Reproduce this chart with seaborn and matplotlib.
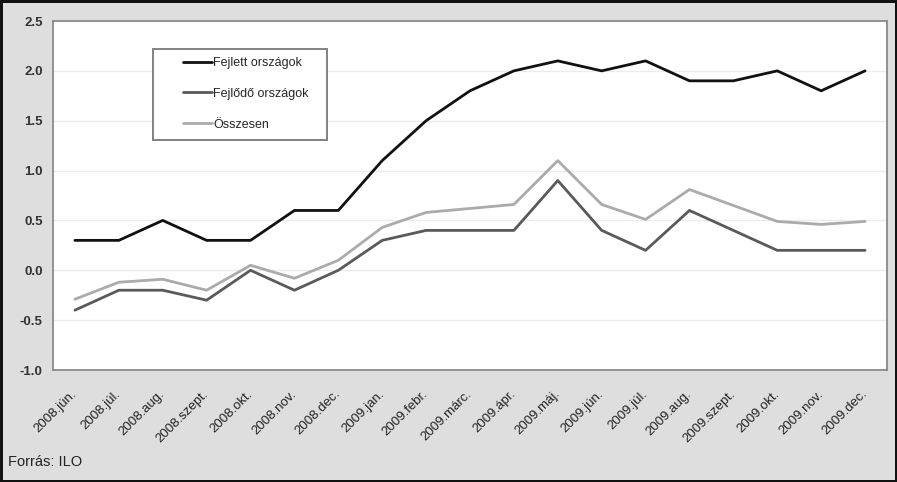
import matplotlib
matplotlib.use("Agg")
import matplotlib.pyplot as plt
import seaborn as sns
import pandas as pd
from matplotlib.patches import Rectangle

months = ["2008.jún.", "2008.júl.", "2008.aug.", "2008.szept.", "2008.okt.",
          "2008.nov.", "2008.dec.", "2009.jan.", "2009.febr.", "2009.márc.",
          "2009.ápr.", "2009.máj.", "2009.jún.", "2009.júl.", "2009.aug.",
          "2009.szept.", "2009.okt.", "2009.nov.", "2009.dec."]
fejlett = [0.3, 0.3, 0.5, 0.3, 0.3, 0.6, 0.6, 1.1, 1.5, 1.8, 2.0, 2.1,
           2.0, 2.1, 1.9, 1.9, 2.0, 1.8, 2.0]
fejlodo = [-0.4, -0.2, -0.2, -0.3, 0.0, -0.2, 0.0, 0.3, 0.4, 0.4, 0.4, 0.9,
           0.4, 0.2, 0.6, 0.4, 0.2, 0.2, 0.2]
osszesen = [-0.29, -0.12, -0.09, -0.2, 0.05, -0.08, 0.1, 0.43, 0.58, 0.62,
            0.66, 1.1, 0.66, 0.51, 0.81, 0.65, 0.49, 0.46, 0.49]
series_names = ["Fejlett országok", "Fejlődő országok", "Összesen"]
yticks = [-1.0, -0.5, 0.0, 0.5, 1.0, 1.5, 2.0, 2.5]

sns.set_theme(style="white")
plt.rcParams["font.family"] = ["Liberation Sans", "DejaVu Sans"]

idx = list(range(len(months)))
df = pd.concat([
    pd.DataFrame({"x": idx, "y": vals, "series": name})
    for name, vals in zip(series_names, [fejlett, fejlodo, osszesen])
], ignore_index=True)

fig = plt.figure(figsize=(8.97, 4.82), dpi=100)
fig.patch.set_facecolor("#dedede")
fig.patch.set_edgecolor("#111111")
fig.patch.set_linewidth(2.5)

ax = fig.add_axes([53/897, 1-370/482, 834/897, 349/482])
ax.set_facecolor("white")

palette = {"Fejlett országok": "#111111", "Fejlődő országok": "#5a5a5a",
           "Összesen": "#ababab"}
sns.lineplot(data=df, x="x", y="y", hue="series", hue_order=series_names,
             palette=palette, linewidth=2.0, ax=ax, legend=True, sort=False)

ax.set_xlim(-0.5, len(months) - 0.5)
ax.set_ylim(-1.0, 2.5)
ax.set_yticks(yticks)
ax.set_yticklabels([f"{v:.1f}" for v in yticks], fontsize=9.5,
                   fontweight="bold", color="#333333")
ax.set_xticks(idx)
ax.set_xticklabels(months, rotation=45, ha="right", va="center",
                   rotation_mode="anchor", fontsize=9.5, color="#222222")
ax.tick_params(axis="x", length=0, pad=16)
ax.tick_params(axis="y", length=0, pad=7.5)
for lbl in ax.get_xticklabels():
    lbl.set_x(lbl.get_position()[0])
ax.set_xlabel("")
ax.set_ylabel("")
ax.grid(axis="y", color="#ececec", linewidth=1.0)
ax.set_axisbelow(True)
for s in ax.spines.values():
    s.set_color("#8a8a8a")
    s.set_linewidth(1.3)

# legend frame
ax.add_patch(Rectangle(((153-53)/834, (370-140)/349), (327-153)/834, (140-49)/349,
                       transform=ax.transAxes, facecolor="white",
                       edgecolor="#777777", linewidth=1.3, zorder=4))
leg = ax.legend(loc="upper left", bbox_to_anchor=((183-53)/834, (370-57)/349),
                frameon=False, fontsize=9, handlelength=2.3, handletextpad=0.1,
                labelspacing=1.5, borderpad=0, borderaxespad=0)
leg.set_zorder(5)
for h in leg.get_lines():
    h.set_linewidth(2.0)

fig.text(8/897, 1-462/482, "Forrás: ILO", fontsize=10.5, color="#222222",
         ha="left", va="center")

fig.savefig("out.png", dpi=100, facecolor=fig.get_facecolor(),
            edgecolor=fig.get_edgecolor())
